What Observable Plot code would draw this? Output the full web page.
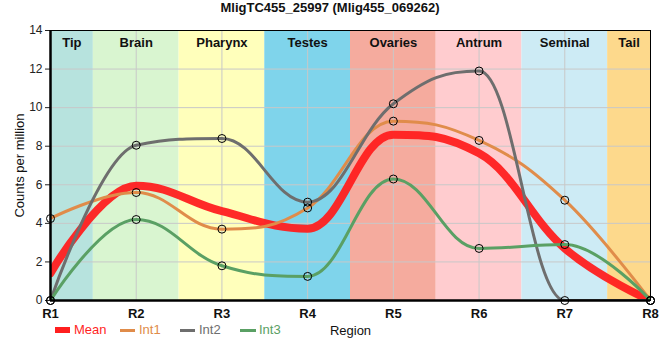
<!DOCTYPE html>
<html><head><meta charset="utf-8">
<script src="https://cdn.jsdelivr.net/npm/d3@7"></script>
<script src="https://cdn.jsdelivr.net/npm/@observablehq/plot@0.6"></script>
<style>
body{margin:0;background:#fff;font-family:"Liberation Sans",Arial,sans-serif;}
#wrap{position:relative;width:660px;height:360px;}
#title{height:18px;line-height:16px;text-align:center;font-weight:bold;font-size:13px;color:#111;}
#legend{position:absolute;left:0;top:322px;height:16px;font-size:13px;}
.item{position:absolute;top:0;line-height:16px;white-space:nowrap;}
.sw{position:absolute;}
</style></head>
<body><div id="wrap"><div id="title">MligTC455_25997 (Mlig455_069262)</div><div id="chart"></div><div id="legend"></div></div>
<script>
const regions = ["R1","R2","R3","R4","R5","R6","R7","R8"];
const mean = [1.42, 5.95, 4.63, 3.72, 8.6, 7.63, 2.7, 0];
const int1 = [4.25, 5.6, 3.7, 4.8, 9.3, 8.3, 5.2, 0];
const int2 = [0, 8.05, 8.4, 5.1, 10.2, 11.9, 0, 0];
const int3 = [0, 4.2, 1.8, 1.25, 6.3, 2.7, 2.9, 0];
const bandNames = ["Tip","Brain","Pharynx","Testes","Ovaries","Antrum","Seminal","Tail"];
const bandStart = [1, 1.5, 2.5, 3.5, 4.5, 5.5, 6.5, 7.5];
const bandEnd = [1.5, 2.5, 3.5, 4.5, 5.5, 6.5, 7.5, 8];
const bandColors = ["#b7e3de","#d9f5d0","#ffffbb","#7fd4eb","#f5ab9e","#ffcccf","#cdebf5","#fdd98c"];
const seriesNames = ["Int1","Int2","Int3"];
const seriesColors = {Mean:"#ff1f1f", Int1:"#e08c4a", Int2:"#6e6e6e", Int3:"#5aa064"};

const bands = bandNames.map((n,i)=>({name:n, x1:bandStart[i], x2:bandEnd[i], c:bandColors[i]}));
const meanData = regions.map((r,i)=>({x:i+1, y:mean[i]}));
const ints = [];
[int1,int2,int3].forEach((arr,k)=>arr.forEach((v,i)=>ints.push({s:seriesNames[k], x:i+1, y:v})));

// spline with control points at 1/2.5 of neighbour distance, no false extremes
function splineCurve(context){
  let pts;
  return {
    areaStart(){}, areaEnd(){},
    lineStart(){pts=[];},
    point(x,y){pts.push([+x,+y]);},
    lineEnd(){
      const n=pts.length; if(!n) return;
      const sm=1.5, den=sm+1;
      const L=[], R=[];
      for(let i=0;i<n;i++){
        const [px,py]=pts[i];
        if(i>0 && i<n-1){
          const [lx,ly]=pts[i-1], [nx,ny]=pts[i+1];
          let lcx=(sm*px+lx)/den, lcy=(sm*py+ly)/den, rcx=(sm*px+nx)/den, rcy=(sm*py+ny)/den;
          let c=0;
          if(rcx!==lcx) c=((rcy-lcy)*(rcx-px))/(rcx-lcx)+py-rcy;
          lcy+=c; rcy+=c;
          if(lcy>ly && lcy>py){lcy=Math.max(ly,py); rcy=2*py-lcy;}
          else if(lcy<ly && lcy<py){lcy=Math.min(ly,py); rcy=2*py-lcy;}
          if(rcy>ny && rcy>py){rcy=Math.max(ny,py); lcy=2*py-rcy;}
          else if(rcy<ny && rcy<py){rcy=Math.min(ny,py); lcy=2*py-rcy;}
          L[i]=[lcx,lcy]; R[i]=[rcx,rcy];
        } else { L[i]=[px,py]; R[i]=[px,py]; }
      }
      context.moveTo(pts[0][0],pts[0][1]);
      for(let i=1;i<n;i++) context.bezierCurveTo(R[i-1][0],R[i-1][1],L[i][0],L[i][1],pts[i][0],pts[i][1]);
    }
  };
}
const curve = splineCurve;
const chart = Plot.plot({
  width:660, height:320,
  marginLeft:50, marginRight:10, marginTop:12, marginBottom:38,
  style:{fontFamily:"'Liberation Sans', Arial, sans-serif", fontSize:"12px", color:"#222", background:"transparent"},
  x:{domain:[1,8], ticks:d3.range(1,9), tickFormat:d=>regions[d-1], label:"Region", labelArrow:"none", labelAnchor:"center", labelOffset:34, tickSize:0, tickPadding:8},
  y:{domain:[0,14], ticks:d3.range(0,15,2), label:"Counts per million", labelArrow:"none", labelAnchor:"center", labelOffset:36, tickSize:5, tickPadding:3},
  marks:[
    Plot.rect(bands,{x1:"x1", x2:"x2", y1:0, y2:14, fill:"c"}),
    Plot.gridX(d3.range(1,9),{stroke:"#c8c8c8", strokeOpacity:1}),
    Plot.gridY(d3.range(0,15,2),{stroke:"#c8c8c8", strokeOpacity:1}),
    Plot.text(bands,{x:d=>(d.x1+d.x2)/2, y:14, text:"name", dy:12, fontWeight:"bold", fontSize:13, fill:"#111"}),
    Plot.line(meanData,{x:"x", y:"y", stroke:seriesColors.Mean, strokeWidth:8, strokeOpacity:0.95, curve, clip:true}),
    Plot.line(ints,{x:"x", y:"y", z:"s", stroke:d=>seriesColors[d.s], strokeWidth:3, curve, clip:true}),
    Plot.dot(ints,{x:"x", y:"y", r:4, stroke:"#000", strokeWidth:1, fill:"none"}),
    Plot.frame({stroke:"#000", strokeWidth:1}),
    Plot.ruleY([0],{stroke:"#000", strokeWidth:2.5}),
    Plot.ruleX([1],{stroke:"#000", strokeWidth:2.5})
  ]
});
chart.querySelectorAll('[aria-label="x-axis tick label"] text').forEach(t=>{t.style.fontWeight="bold";t.style.fontSize="13px";t.setAttribute("fill","#111");});
chart.querySelectorAll('[aria-label="x-axis label"] text, [aria-label="y-axis label"] text').forEach(t=>{t.style.fontSize="13px";t.setAttribute("fill","#111");t.textContent=t.textContent.replace(/[↑→←↓]/g,"").trim();});
document.getElementById("chart").appendChild(chart);

const leg = document.getElementById("legend");
const items = [
  {n:"Mean", sx:55, sw:15, h:6, tx:74},
  {n:"Int1", sx:120, sw:15, h:3, tx:139},
  {n:"Int2", sx:180, sw:15, h:3, tx:199},
  {n:"Int3", sx:240, sw:16, h:3, tx:259}
];
items.forEach(it=>{
  const s=document.createElement("div");s.className="sw";
  s.style.left=it.sx+"px";s.style.width=it.sw+"px";s.style.height=it.h+"px";s.style.top=(8-it.h/2)+"px";
  s.style.background=seriesColors[it.n];leg.appendChild(s);
  const t=document.createElement("div");t.className="item";t.style.left=it.tx+"px";t.style.color=seriesColors[it.n];t.textContent=it.n;leg.appendChild(t);
});
</script></body></html>
